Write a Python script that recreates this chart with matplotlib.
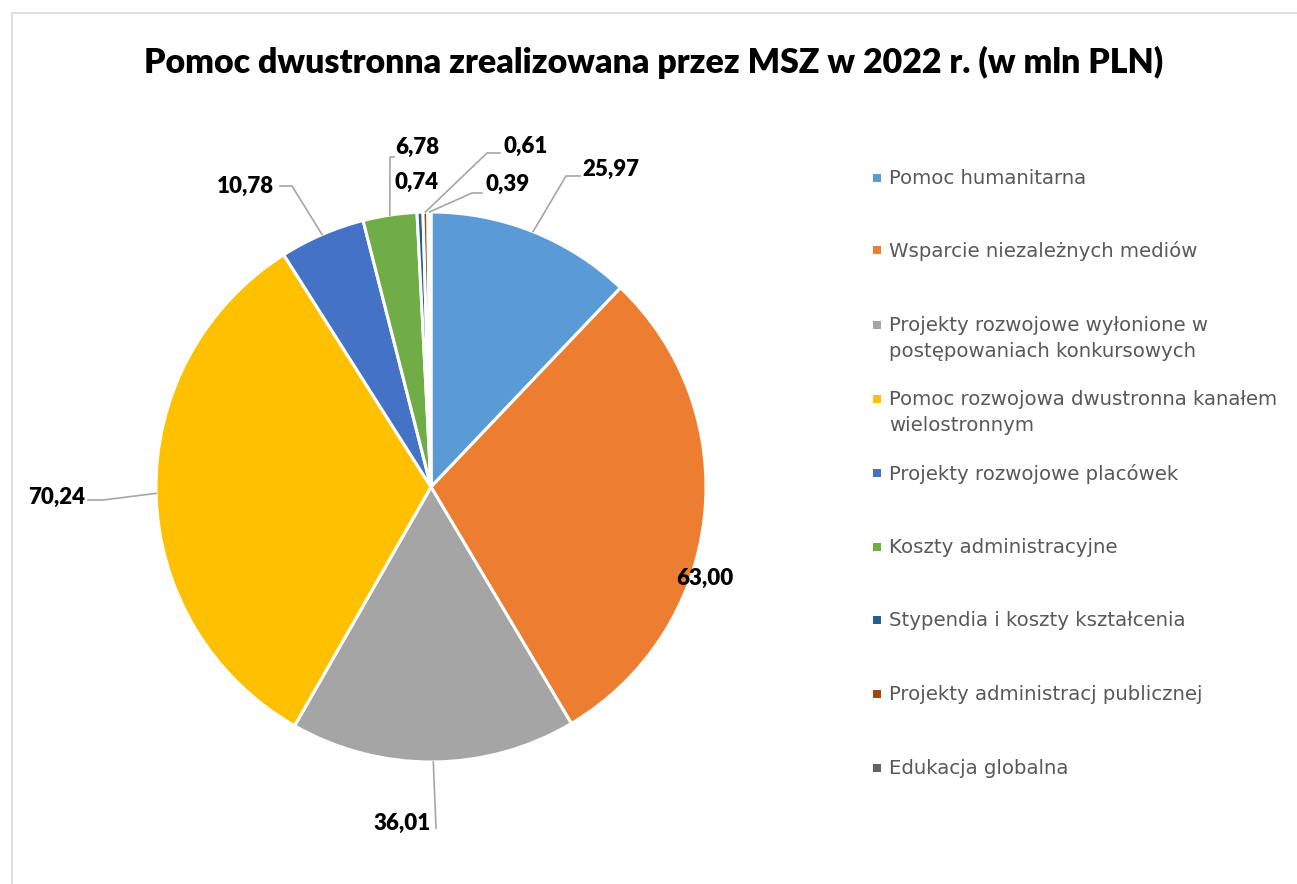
import matplotlib
matplotlib.use("Agg")
import matplotlib.pyplot as plt
from matplotlib.patches import Rectangle
from matplotlib.lines import Line2D
import numpy as np

categories = [
    "Pomoc humanitarna",
    "Wsparcie niezależnych mediów",
    "Projekty rozwojowe wyłonione w\npostępowaniach konkursowych",
    "Pomoc rozwojowa dwustronna kanałem\nwielostronnym",
    "Projekty rozwojowe placówek",
    "Koszty administracyjne",
    "Stypendia i koszty kształcenia",
    "Projekty administracj publicznej",
    "Edukacja globalna",
]
values = [25.97, 63.00, 36.01, 70.24, 10.78, 6.78, 0.74, 0.61, 0.39]
value_labels = ["25,97", "63,00", "36,01", "70,24", "10,78", "6,78", "0,74", "0,61", "0,39"]
colors = ["#5B9BD5", "#ED7D31", "#A5A5A5", "#FFC000", "#4472C4",
          "#70AD47", "#255E91", "#9E480E", "#636363"]
title = "Pomoc dwustronna zrealizowana przez MSZ w 2022 r. (w mln PLN)"

W, H = 1297, 884
fig = plt.figure(figsize=(W / 100, H / 100), dpi=100)
FONT = ["Lato", "DejaVu Sans"]
LEGFONT = ["DejaVu Sans"]

def fx(px):
    return px / W

def fy(py):
    return 1 - py / H

# chart border
fig.patches.append(Rectangle((fx(12), fy(H + 10)), fx(1400), (H + 10 - 13) / H,
                             transform=fig.transFigure, fill=False,
                             edgecolor="#D9D9D9", linewidth=1.2))

# pie axes
cx, cy, R = 431, 487, 275
ax = fig.add_axes([fx(cx - R), fy(cy + R), 2 * R / W, 2 * R / H])
wedges, _ = ax.pie(values, startangle=90, counterclock=False, colors=colors,
                   wedgeprops=dict(edgecolor="white", linewidth=2.2))
ax.set_xlim(-1, 1)
ax.set_ylim(-1, 1)
ax.set_aspect("equal")
ax.axis("off")

fig.text(fx(654), fy(62), title, ha="center", va="center", fontsize=24.4,
         fontweight="heavy", family=FONT, color="black")

# label layout: text center, knee, line end (pixels, top-origin)
label_layout = [
    ((611, 169), (566, 176), (580, 176)),
    ((705, 578), None, None),
    ((402, 823), (436, 828), (436, 828)),
    ((57, 497), (103, 500), (88, 500)),
    ((245, 186), (292, 186), (280, 186)),
    ((417, 147), (390, 157), (394, 157)),
    ((417, 182), None, None),
    ((526, 146), (487, 153), (500, 153)),
    ((508, 184), (472, 193), (482, 193)),
]

fig.canvas.draw()
for w, lab, (tpos, knee, end) in zip(wedges, value_labels, label_layout):
    mid = np.deg2rad((w.theta1 + w.theta2) / 2)
    if knee is not None:
        ex, ey = ax.transData.transform((np.cos(mid), np.sin(mid)))
        xs = [fx(ex), fx(knee[0]), fx(end[0])]
        ys = [ey / H, fy(knee[1]), fy(end[1])]
        fig.lines.append(Line2D(xs, ys, transform=fig.transFigure,
                                color="#A6A6A6", linewidth=1.2))
    fig.text(fx(tpos[0]), fy(tpos[1]), lab, ha="center", va="center",
             fontsize=16, fontweight="heavy", family=FONT, color="black")

# legend
leg_y = [178, 250, 325, 399, 473, 547, 620, 694, 768]
for cat, col, ly in zip(categories, colors, leg_y):
    fig.patches.append(Rectangle((fx(873), fy(ly + 4)), 8 / W, 8 / H,
                                 transform=fig.transFigure, facecolor=col,
                                 edgecolor="none"))
    fig.text(fx(889), fy(ly - 9), cat, ha="left", va="top", fontsize=14.2,
             family=LEGFONT, color="#595959", linespacing=1.48)

fig.savefig("out.png", dpi=100)
